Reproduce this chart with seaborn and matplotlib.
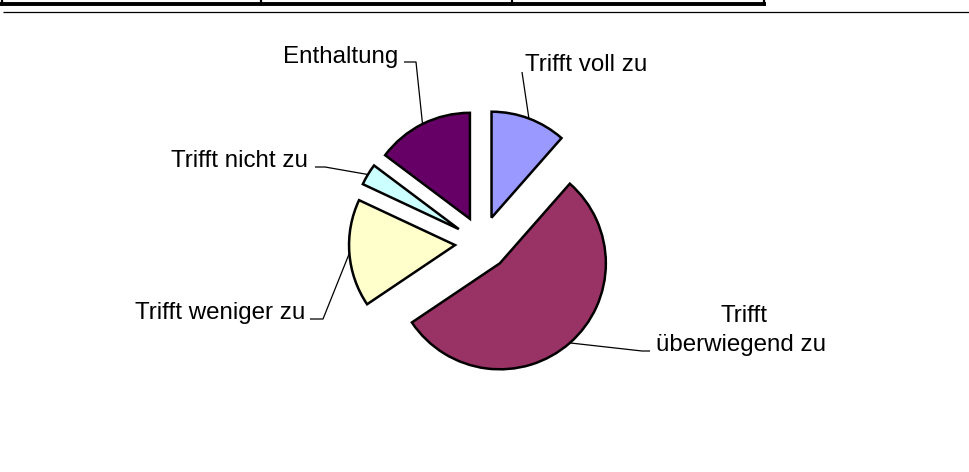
import matplotlib
matplotlib.use("Agg")
import matplotlib.pyplot as plt
import seaborn as sns
from matplotlib.lines import Line2D
import numpy as np


sns.set_theme(style="white")
plt.rcParams["font.family"] = ["Liberation Sans", "DejaVu Sans"]
plt.rcParams["text.color"] = "black"

# DATEN
kategorien = ["Trifft voll zu", "Trifft überwiegend zu", "Trifft weniger zu",
              "Trifft nicht zu", "Enthaltung"]
anzahl = [7, 33, 10, 2, 9]
farben = ["#9999FF", "#993366", "#FFFFCC", "#CCFFFF", "#660066"]

# LAYOUT (Pixel im Bild)
W, H = 970, 472
CX, CY, R = 482, 243, 106


def px(xi, yi):
    # Bildpixel -> Daten (Radius = 1)
    return (xi - CX) / R, (CY - yi) / R


fig = plt.figure(figsize=(W / 100, H / 100), dpi=100)
ax = fig.add_axes([0, 0, 1, 1])

wedges, _ = ax.pie(
    anzahl,
    colors=sns.color_palette(farben),
    startangle=90,
    counterclock=False,
    explode=[0.255] * len(anzahl),
    wedgeprops=dict(edgecolor="black", linewidth=1.8),
)

x0, y0 = px(0, H)
x1, y1 = px(W, 0)
ax.set_xlim(x0, x1)
ax.set_ylim(y0, y1)
ax.set_aspect("equal")
ax.axis("off")

# BESCHRIFTUNGEN: (Knick, Ende der Linie, Textpos, ha)
beschriftung = [
    (None, (522, 72), (525, 70.7), "left"),
    ((642, 351), (650, 351), (656, 351), "left"),
    ((323, 319), (310, 319), (305, 319), "right"),
    ((325, 167), (315, 167), (308, 166.7), "right"),
    ((416, 62), (404, 62), (398, 63.3), "right"),
]

for w, name, (knick, ende, tpos, ha) in zip(wedges, kategorien, beschriftung):
    tm = np.deg2rad((w.theta1 + w.theta2) / 2)
    ax_x = w.center[0] + w.r * np.cos(tm)
    ax_y = w.center[1] + w.r * np.sin(tm)
    punkte = [(ax_x, ax_y)]
    if knick is not None:
        punkte.append(px(*knick))
    punkte.append(px(*ende))
    xs, ys = zip(*punkte)
    ax.plot(xs, ys, color="black", lw=0.9, solid_capstyle="butt")

    tx, ty = px(*tpos)
    if name == "Trifft überwiegend zu":
        ax.text(tx, ty, "überwiegend zu", ha="left", va="baseline",
                fontsize=17.4, color="black")
        bx, by = px(744, 321.7)
        ax.text(bx, by, "Trifft", ha="center", va="baseline",
                fontsize=17.4, color="black")
    else:
        ax.text(tx, ty, name, ha=ha, va="baseline", fontsize=17.4, color="black")

# TABELLENREST OBEN
def linie(p, q, lw):
    (a, b), (c, d) = px(*p), px(*q)
    ax.add_line(Line2D([a, c], [b, d], color="black", lw=lw, solid_capstyle="butt"))


linie((0, 4.5), (766, 4.5), 2.8)
for xv in [1.5, 261, 512, 764.5]:
    linie((xv, 0), (xv, 6), 1.6)
linie((3, 12.3), (W, 12.3), 0.9)

fig.savefig("out.png", dpi=100)
